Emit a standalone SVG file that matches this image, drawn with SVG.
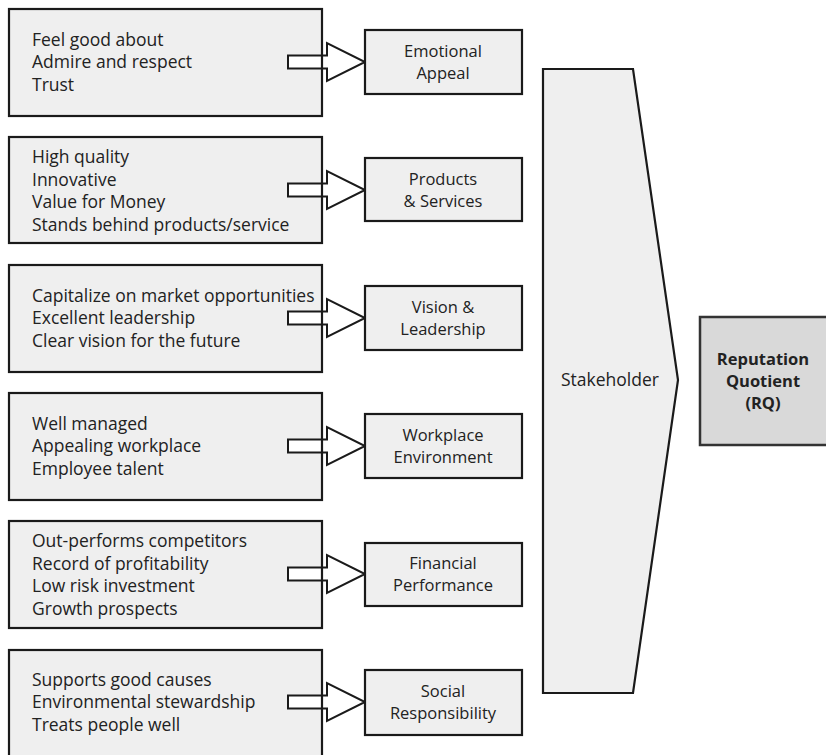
<svg xmlns="http://www.w3.org/2000/svg" width="826" height="755" viewBox="0 0 826 755">
<style>
.box{fill:#efefef;stroke:#1a1a1a;stroke-width:2.2}
.fill{fill:#efefef;stroke:none}
.frame{fill:none;stroke:#1a1a1a;stroke-width:2.2}
.arr{fill:#ffffff;stroke:#1a1a1a;stroke-width:2;stroke-linejoin:miter}
text{font-family:"Open Sans","Liberation Sans",sans-serif;font-size:17.5px;fill:#222}
.r{font-size:16.5px}
.c{text-anchor:middle}
.b{font-weight:bold;font-size:16.5px}
</style>
<defs>
<polygon id="ar" points="288,-6.5 327,-6.5 327,-19 365,0 327,19 327,6.5 288,6.5"/>
</defs>
<rect width="826" height="755" fill="#fff"/>
<g id="fills">
<rect class="fill" x="9" y="9" width="313" height="107"/>
<rect class="fill" x="9" y="137" width="313" height="106"/>
<rect class="fill" x="9" y="265" width="313" height="107"/>
<rect class="fill" x="9" y="393" width="313" height="107"/>
<rect class="fill" x="9" y="521" width="313" height="107"/>
<rect class="fill" x="9" y="650" width="313" height="110"/>
</g>
<g id="connectors">
<use href="#ar" class="arr" y="62"/>
<use href="#ar" class="arr" y="190"/>
<use href="#ar" class="arr" y="318"/>
<use href="#ar" class="arr" y="446"/>
<use href="#ar" class="arr" y="574"/>
<use href="#ar" class="arr" y="702"/>
</g>
<g id="attr1"><rect class="frame" x="9" y="9" width="313" height="107"/>
<text x="32" y="46">Feel good about</text><text x="32" y="68">Admire and respect</text><text x="32" y="91">Trust</text></g>
<g id="attr2"><rect class="frame" x="9" y="137" width="313" height="106"/>
<text x="32" y="163">High quality</text><text x="32" y="186">Innovative</text><text x="32" y="208">Value for Money</text><text x="32" y="231">Stands behind products/service</text></g>
<g id="attr3"><rect class="frame" x="9" y="265" width="313" height="107"/>
<text x="32" y="302">Capitalize on market opportunities</text><text x="32" y="324">Excellent leadership</text><text x="32" y="347">Clear vision for the future</text></g>
<g id="attr4"><rect class="frame" x="9" y="393" width="313" height="107"/>
<text x="32" y="430">Well managed</text><text x="32" y="452">Appealing workplace</text><text x="32" y="475">Employee talent</text></g>
<g id="attr5"><rect class="frame" x="9" y="521" width="313" height="107"/>
<text x="32" y="547">Out-performs competitors</text><text x="32" y="570">Record of profitability</text><text x="32" y="592">Low risk investment</text><text x="32" y="615">Growth prospects</text></g>
<g id="attr6"><rect class="frame" x="9" y="650" width="313" height="110"/>
<text x="32" y="686">Supports good causes</text><text x="32" y="708">Environmental stewardship</text><text x="32" y="731">Treats people well</text></g>
<g id="emotional"><rect class="box" x="365" y="30" width="157" height="64"/><text class="c r" x="443" y="57">Emotional</text><text class="c r" x="443" y="79">Appeal</text></g>
<g id="products"><rect class="box" x="365" y="158" width="157" height="63"/><text class="c r" x="443" y="185">Products</text><text class="c r" x="443" y="207">&amp; Services</text></g>
<g id="vision"><rect class="box" x="365" y="286" width="157" height="64"/><text class="c r" x="443" y="313">Vision &amp;</text><text class="c r" x="443" y="335">Leadership</text></g>
<g id="workplace"><rect class="box" x="365" y="414" width="157" height="64"/><text class="c r" x="443" y="441">Workplace</text><text class="c r" x="443" y="463">Environment</text></g>
<g id="financial"><rect class="box" x="365" y="543" width="157" height="63"/><text class="c r" x="443" y="569">Financial</text><text class="c r" x="443" y="591">Performance</text></g>
<g id="social"><rect class="box" x="365" y="670" width="157" height="65"/><text class="c r" x="443" y="697">Social</text><text class="c r" x="443" y="719">Responsibility</text></g>
<g id="stakeholder"><polygon class="box" points="543,69 633,69 678,380 633,693 543,693"/><text class="c" x="610" y="386">Stakeholder</text></g>
<g id="rq"><rect x="700" y="317" width="130" height="128" fill="#d9d9d9" stroke="#333" stroke-width="2.5"/><text class="c b" x="763" y="365">Reputation</text><text class="c b" x="763" y="387">Quotient</text><text class="c b" x="763" y="409">(RQ)</text></g>
</svg>
